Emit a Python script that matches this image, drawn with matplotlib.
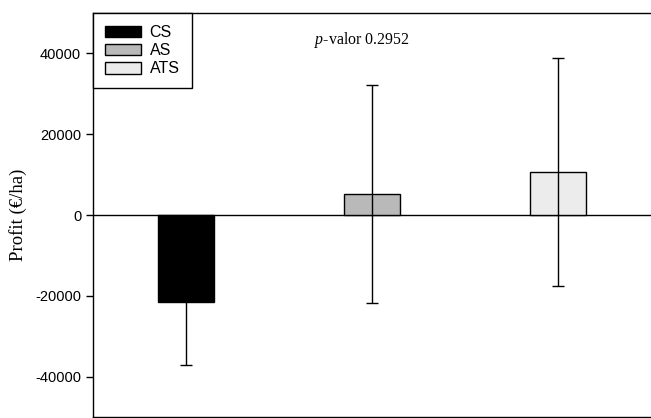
import matplotlib.pyplot as plt

plt.rcParams['mathtext.fontset'] = 'custom'
plt.rcParams['mathtext.rm'] = 'Liberation Serif'
plt.rcParams['mathtext.it'] = 'Liberation Serif:italic'
plt.rcParams['axes.unicode_minus'] = False

# data
systems = ["CS", "AS", "ATS"]
profit = [-21650, 5100, 10700]
err = [15550, 27000, 28200]
colors = ["#000000", "#b9b9b9", "#ececec"]

fig = plt.figure(figsize=(6.51, 4.18), dpi=100)
ax = fig.add_axes([93 / 651, 1 - 417 / 418, 562 / 651, 404 / 418])

xs = list(range(len(systems)))
bars = ax.bar(xs, profit, width=0.3, color=colors, edgecolor="black",
              linewidth=1.0, label=systems, zorder=2)
ax.errorbar(xs, profit, yerr=err, fmt="none", ecolor="black",
            elinewidth=1.0, capsize=4.3, capthick=1.0, zorder=3)
ax.axhline(0, color="black", linewidth=1.0, zorder=1)

ax.set_xlim(-0.5, 2.52)
ax.set_ylim(-50000, 50000)
ax.set_xticks([])
ax.set_yticks([-40000, -20000, 0, 20000, 40000])
ax.tick_params(axis="y", direction="out", length=5, width=1,
               labelsize=10.5)
for lbl in ax.get_yticklabels():
    lbl.set_family("Liberation Sans")
for s in ax.spines.values():
    s.set_linewidth(1.0)

ax.set_ylabel("Profit (€/ha)", family="Liberation Serif", fontsize=13.5,
              labelpad=6)

leg = ax.legend(bars, systems, loc="upper left", borderaxespad=0,
                fancybox=False, edgecolor="black", framealpha=1,
                prop={"family": "Liberation Sans", "size": 11.5},
                handlelength=2.25, handleheight=0.75, labelspacing=0.2,
                borderpad=0.75, handletextpad=0.55)
leg.get_frame().set_linewidth(1.0)

ax.text(0.394, 0.933, r"$\it{p}$-valor 0.2952", transform=ax.transAxes,
        family="Liberation Serif", fontsize=11.4, va="center", ha="left")

fig.savefig("out.png", dpi=100)
